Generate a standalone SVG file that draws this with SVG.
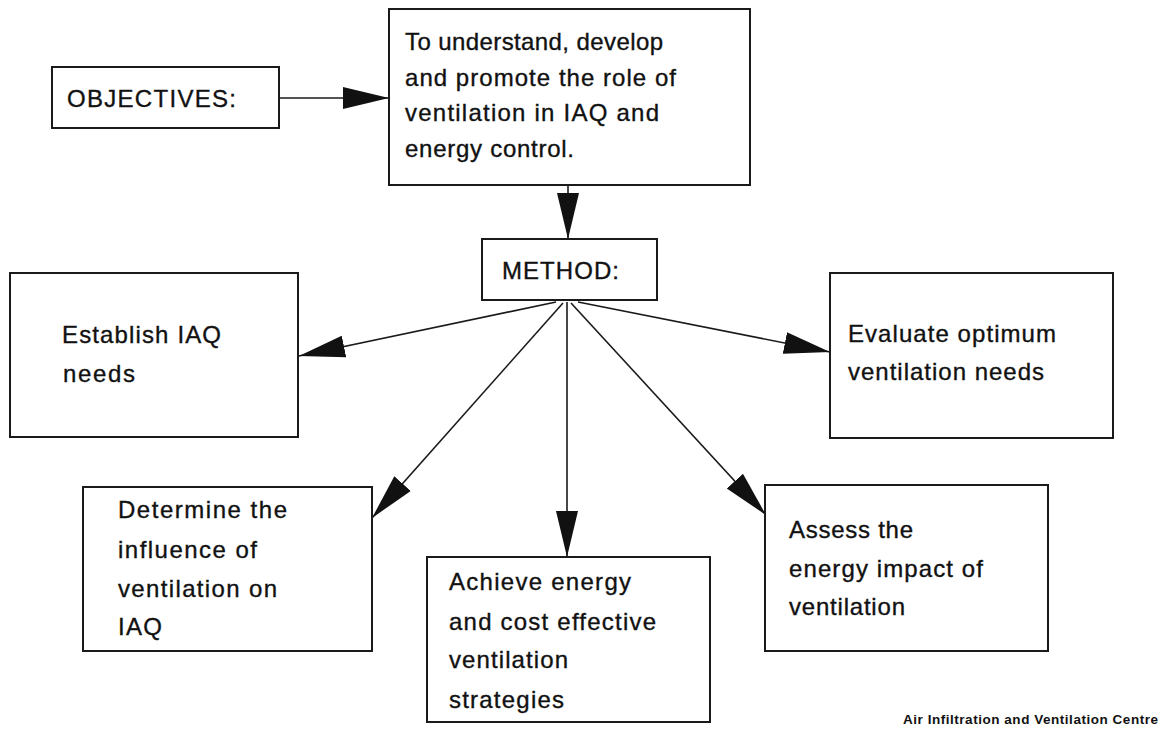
<svg xmlns="http://www.w3.org/2000/svg" width="1174" height="730" viewBox="0 0 1174 730">
<defs>
<style>
.box{fill:#fff;stroke:#1a1a1a;stroke-width:2}
.t{font-family:"Liberation Sans",Arial,sans-serif;font-size:24px;fill:#111;stroke:#111;stroke-width:0.35}
.c{stroke:#1a1a1a;stroke-width:1.6;fill:none;marker-end:url(#ah)}
.f{font-family:"Liberation Sans",Arial,sans-serif;font-size:13.5px;font-weight:bold;fill:#111}
</style>
<marker id="ah" markerUnits="userSpaceOnUse" markerWidth="46" markerHeight="24" refX="46" refY="12" orient="auto" viewBox="0 0 46 24">
<path d="M0,1 L46,12 L0,23 Z" fill="#111"/>
</marker>
</defs>
<rect width="1174" height="730" fill="#fff"/>
<g id="connectors">
<line class="c" x1="279" y1="98" x2="389" y2="98"/>
<line class="c" x1="568" y1="185" x2="568" y2="239"/>
<line class="c" x1="556" y1="302" x2="299" y2="356"/>
<line class="c" x1="578" y1="302" x2="830" y2="352"/>
<line class="c" x1="563" y1="303" x2="372" y2="518"/>
<line class="c" x1="567" y1="302" x2="567" y2="557"/>
<line class="c" x1="571" y1="303" x2="766" y2="515"/>
</g>
<g id="objectives">
<rect class="box" x="52" y="67" width="227" height="61"/>
<text class="t" x="67" y="107" textLength="169" lengthAdjust="spacing">OBJECTIVES:</text>
</g>
<g id="goal">
<rect class="box" x="389" y="9" width="361" height="176"/>
<text class="t" x="405" y="50" textLength="258" lengthAdjust="spacing">To understand, develop</text>
<text class="t" x="405" y="86" textLength="271" lengthAdjust="spacing">and promote the role of</text>
<text class="t" x="405" y="121" textLength="254" lengthAdjust="spacing">ventilation in IAQ and</text>
<text class="t" x="405" y="157" textLength="169" lengthAdjust="spacing">energy control.</text>
</g>
<g id="method">
<rect class="box" x="482" y="239" width="175" height="61"/>
<text class="t" x="502" y="279" textLength="117" lengthAdjust="spacing">METHOD:</text>
</g>
<g id="establish">
<rect class="box" x="10" y="273" width="288" height="164"/>
<text class="t" x="62" y="343" textLength="159" lengthAdjust="spacing">Establish IAQ</text>
<text class="t" x="63" y="382" textLength="72" lengthAdjust="spacing">needs</text>
</g>
<g id="evaluate">
<rect class="box" x="830" y="273" width="283" height="165"/>
<text class="t" x="848" y="342" textLength="208" lengthAdjust="spacing">Evaluate optimum</text>
<text class="t" x="848" y="380" textLength="196" lengthAdjust="spacing">ventilation needs</text>
</g>
<g id="determine">
<rect class="box" x="83" y="487" width="289" height="164"/>
<text class="t" x="118" y="518" textLength="169" lengthAdjust="spacing">Determine the</text>
<text class="t" x="118" y="558" textLength="139" lengthAdjust="spacing">influence of</text>
<text class="t" x="118" y="597" textLength="159" lengthAdjust="spacing">ventilation on</text>
<text class="t" x="118" y="635" textLength="44" lengthAdjust="spacing">IAQ</text>
</g>
<g id="achieve">
<rect class="box" x="427" y="557" width="283" height="165"/>
<text class="t" x="449" y="590" textLength="182" lengthAdjust="spacing">Achieve energy</text>
<text class="t" x="449" y="630" textLength="207" lengthAdjust="spacing">and cost effective</text>
<text class="t" x="449" y="668" textLength="119" lengthAdjust="spacing">ventilation</text>
<text class="t" x="449" y="708" textLength="115" lengthAdjust="spacing">strategies</text>
</g>
<g id="assess">
<rect class="box" x="765" y="485" width="283" height="166"/>
<text class="t" x="789" y="538" textLength="124" lengthAdjust="spacing">Assess the</text>
<text class="t" x="789" y="577" textLength="194" lengthAdjust="spacing">energy impact of</text>
<text class="t" x="789" y="615" textLength="116" lengthAdjust="spacing">ventilation</text>
</g>
<g id="footer">
<text class="f" x="903" y="724" textLength="255" lengthAdjust="spacing">Air Infiltration and Ventilation Centre</text>
</g>
</svg>
